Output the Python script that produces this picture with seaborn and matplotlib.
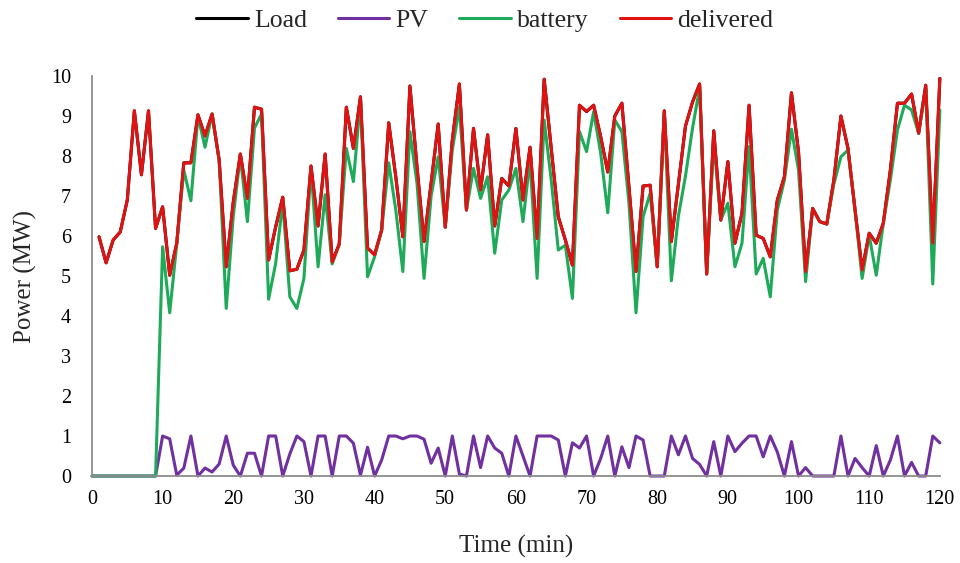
import numpy as np
import pandas as pd
import seaborn as sns
import matplotlib.pyplot as plt
from matplotlib.lines import Line2D

# ---------------- data ----------------
time_min = list(range(1, 121))

delivered = [5.98, 5.33, 5.90, 6.10, 6.90, 9.13, 7.53, 9.13, 6.19, 6.73,
             5.02, 5.82, 7.83, 7.83, 9.03, 8.50, 9.05, 7.90, 5.23, 6.85,
             8.05, 6.94, 9.22, 9.17, 5.40, 6.23, 6.97, 5.13, 5.17, 5.65,
             7.75, 6.25, 8.05, 5.35, 5.80, 9.22, 8.19, 9.48, 5.70, 5.53,
             6.15, 8.83, 7.48, 5.98, 9.75, 7.73, 5.86, 7.32, 8.80, 6.22,
             8.40, 9.80, 6.65, 8.69, 7.15, 8.53, 6.25, 7.44, 7.25, 8.69,
             6.90, 8.22, 5.94, 9.92, 8.19, 6.48, 5.90, 5.27, 9.27, 9.11,
             9.27, 8.48, 7.60, 9.00, 9.32, 7.23, 5.11, 7.25, 7.27, 5.23,
             9.13, 5.86, 7.30, 8.75, 9.35, 9.80, 5.05, 8.63, 6.40, 7.86,
             5.82, 6.57, 9.27, 6.02, 5.94, 5.48, 6.90, 7.48, 9.58, 8.10,
             5.11, 6.69, 6.36, 6.30, 7.40, 9.00, 8.19, 6.65, 5.15, 6.07,
             5.82, 6.32, 7.65, 9.32, 9.32, 9.55, 8.57, 9.77, 5.82, 9.94]

load = list(delivered)

battery_time = list(range(0, 121))
battery = [0.0,
           0.0, 0.0, 0.0, 0.0, 0.0, 0.0, 0.0, 0.0, 0.0, 5.73,
           4.08, 5.80, 7.65, 6.88, 9.00, 8.22, 9.05, 7.90, 4.19, 6.50,
           8.00, 6.36, 8.70, 9.05, 4.42, 5.32, 6.85, 4.48, 4.19, 4.94,
           7.70, 5.23, 7.03, 5.30, 5.80, 8.19, 7.36, 9.40, 4.98, 5.48,
           6.15, 7.83, 6.65, 5.11, 8.61, 7.32, 4.94, 7.00, 7.98, 6.22,
           8.15, 9.23, 6.65, 7.69, 6.94, 7.48, 5.57, 6.90, 7.15, 7.69,
           6.36, 7.90, 4.94, 8.90, 7.40, 5.65, 5.77, 4.44, 8.61, 8.11,
           9.11, 8.07, 6.58, 8.90, 8.61, 6.82, 4.08, 6.48, 7.07, 5.23,
           9.05, 4.88, 6.50, 7.50, 8.70, 9.70, 5.05, 8.35, 6.40, 6.82,
           5.23, 5.82, 8.24, 5.05, 5.44, 4.48, 6.65, 7.40, 8.67, 7.65,
           4.86, 6.69, 6.36, 6.30, 7.30, 7.98, 8.15, 6.65, 4.94, 6.02,
           5.02, 6.32, 7.40, 8.65, 9.27, 9.15, 8.57, 9.70, 4.80, 9.15]

pv = [0.0,
      0.0, 0.0, 0.0, 0.0, 0.0, 0.0, 0.0, 0.0, 0.0, 1.00,
      0.93, 0.02, 0.20, 1.00, 0.00, 0.20, 0.10, 0.30, 1.00, 0.27,
      0.00, 0.57, 0.57, 0.00, 1.00, 1.00, 0.00, 0.55, 1.00, 0.86,
      0.00, 1.00, 1.00, 0.00, 1.00, 1.00, 0.82, 0.02, 0.72, 0.00,
      0.40, 1.00, 1.00, 0.93, 1.00, 1.00, 0.92, 0.32, 0.70, 0.00,
      1.00, 0.05, 0.00, 1.00, 0.21, 1.00, 0.70, 0.57, 0.00, 1.00,
      0.50, 0.00, 1.00, 1.00, 1.00, 0.90, 0.00, 0.83, 0.70, 1.00,
      0.00, 0.44, 1.00, 0.00, 0.73, 0.21, 1.00, 0.90, 0.00, 0.00,
      0.00, 1.00, 0.53, 1.00, 0.44, 0.29, 0.00, 0.86, 0.00, 1.00,
      0.61, 0.82, 1.00, 1.00, 0.48, 1.00, 0.60, 0.00, 0.86, 0.00,
      0.21, 0.00, 0.00, 0.00, 0.00, 1.00, 0.00, 0.44, 0.21, 0.00,
      0.76, 0.00, 0.40, 1.00, 0.00, 0.34, 0.00, 0.00, 1.00, 0.83]

series_names = ["Load", "PV", "battery", "delivered"]
series_colors = {"Load": "#000000", "PV": "#7030A0",
                 "battery": "#1FAA5A", "delivered": "#E01212"}

x_ticks = list(range(0, 121, 10))
y_ticks = list(range(0, 11))

# ---------------- build long table ----------------
frames = [
    pd.DataFrame({"time": time_min, "value": load, "series": "Load"}),
    pd.DataFrame({"time": battery_time, "value": pv, "series": "PV"}),
    pd.DataFrame({"time": battery_time, "value": battery, "series": "battery"}),
    pd.DataFrame({"time": time_min, "value": delivered, "series": "delivered"}),
]
df = pd.concat(frames, ignore_index=True)

# ---------------- plot ----------------
sns.set_theme(style="white")
plt.rcParams["font.family"] = ["Liberation Serif", "DejaVu Serif"]

fig, ax = plt.subplots(figsize=(9.6, 5.63), dpi=100)
fig.subplots_adjust(left=0.0958, right=0.979, bottom=0.1545, top=0.865)

sns.lineplot(data=df, x="time", y="value", hue="series",
             hue_order=series_names, palette=series_colors,
             linewidth=2.2, ax=ax, legend=False, sort=True)
for ln in ax.lines:
    ln.set_clip_on(False)
    ln.set_solid_joinstyle("round")

ax.set_xlim(0, 120)
ax.set_ylim(0, 10)
ax.set_xticks(x_ticks)
ax.set_yticks(y_ticks)
ax.tick_params(axis="both", length=0, labelsize=14.5, colors="black")
ax.tick_params(axis="y", pad=15)
ax.tick_params(axis="x", pad=10)

for s in ["top", "right"]:
    ax.spines[s].set_visible(False)
for s in ["left", "bottom"]:
    ax.spines[s].set_color("#8c8c8c")
    ax.spines[s].set_linewidth(1.3)

ax.set_xlabel("Time (min)", fontsize=18, labelpad=19)
ax.set_ylabel("Power (MW)", fontsize=18, labelpad=10)

handles = [Line2D([0], [0], color=series_colors[n], lw=2.2) for n in series_names]
fig.legend(handles, series_names, loc="center", bbox_to_anchor=(0.505, 0.963),
           ncol=4, frameon=False, fontsize=18.5, handlelength=2.0,
           columnspacing=1.2, handletextpad=0.25)

fig.savefig("out.png", dpi=100)
